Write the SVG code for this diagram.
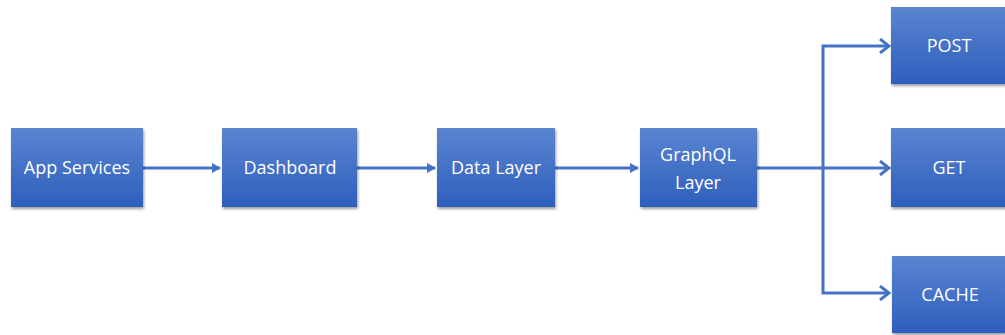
<svg xmlns="http://www.w3.org/2000/svg" width="1005" height="335" viewBox="0 0 1005 335">
<defs>
<linearGradient id="g" x1="0" y1="0" x2="0" y2="1">
<stop offset="0" stop-color="#5A85D0"/>
<stop offset="1" stop-color="#2E5EBD"/>
</linearGradient>
<filter id="sh" x="-10%" y="-10%" width="130%" height="130%">
<feGaussianBlur in="SourceAlpha" stdDeviation="1.5"/>
<feOffset dx="1" dy="2" result="b"/>
<feComponentTransfer><feFuncA type="linear" slope="0.4"/></feComponentTransfer>
<feMerge><feMergeNode/><feMergeNode in="SourceGraphic"/></feMerge>
</filter>
<marker id="tri" markerWidth="10" markerHeight="10" refX="8" refY="5" orient="auto" markerUnits="userSpaceOnUse">
<path d="M0,0 L9,5 L0,10 z" fill="#4472C4"/>
</marker>
<marker id="chev" markerWidth="14" markerHeight="16" refX="12" refY="8" orient="auto" markerUnits="userSpaceOnUse">
<path d="M3,1 L12,8 L3,15" fill="none" stroke="#4472C4" stroke-width="3"/>
</marker>
</defs>
<style>
.box{fill:url(#g);filter:url(#sh)}
.t{font-family:"Open Sans","Liberation Sans",sans-serif;font-size:18px;fill:#fff;text-anchor:middle}
.c{fill:none;stroke:#4472C4;stroke-width:3}
</style>
<g id="connectors">
<path class="c" d="M143,168 H220" marker-end="url(#tri)"/>
<path class="c" d="M357,168 H435" marker-end="url(#tri)"/>
<path class="c" d="M555,168 H638" marker-end="url(#tri)"/>
<path class="c" d="M757,168 H889" marker-end="url(#chev)"/>
<path class="c" d="M823,168 V46 H889" marker-end="url(#chev)"/>
<path class="c" d="M823,168 V293 H889" marker-end="url(#chev)"/>
</g>
<g id="app-services"><rect class="box" x="11" y="128" width="132" height="79"/><text class="t" x="77" y="174">App Services</text></g>
<g id="dashboard"><rect class="box" x="222" y="128" width="135" height="79"/><text class="t" x="290" y="174">Dashboard</text></g>
<g id="data-layer"><rect class="box" x="437" y="128" width="118" height="79"/><text class="t" x="496" y="174">Data Layer</text></g>
<g id="graphql-layer"><rect class="box" x="640" y="128" width="117" height="79"/><text class="t" x="698" y="161">GraphQL</text><text class="t" x="698" y="189">Layer</text></g>
<g id="post"><rect class="box" x="891" y="7" width="120" height="77"/><text class="t" x="949" y="52">POST</text></g>
<g id="get"><rect class="box" x="891" y="128" width="120" height="79"/><text class="t" x="949" y="174">GET</text></g>
<g id="cache"><rect class="box" x="892" y="256" width="120" height="77"/><text class="t" x="950" y="301">CACHE</text></g>
</svg>
